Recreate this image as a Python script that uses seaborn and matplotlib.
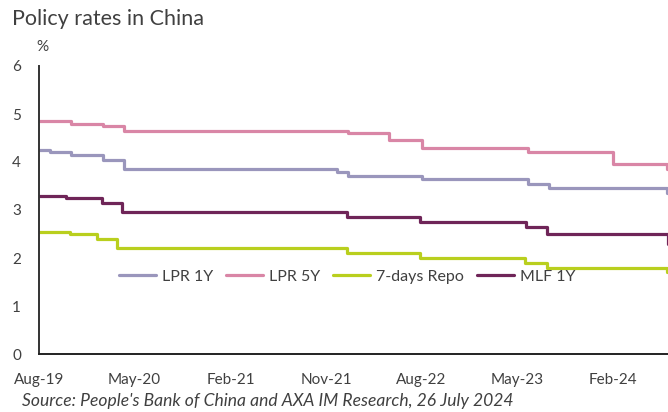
import matplotlib
matplotlib.use("Agg")
import matplotlib.pyplot as plt
import matplotlib.dates as mdates
import numpy as np
import pandas as pd
import seaborn as sns

# Effective dates of each rate change and the rate that applies from then on (%)
lpr1y_dates = ["2019-08-20", "2019-09-20", "2019-11-20", "2020-02-20", "2020-04-20",
               "2021-12-20", "2022-01-20", "2022-08-22", "2023-06-20", "2023-08-21",
               "2024-07-22", "2024-07-26"]
lpr1y_rates = [4.25, 4.20, 4.15, 4.05, 3.85, 3.80, 3.70, 3.65, 3.55, 3.45, 3.35, 3.35]

lpr5y_dates = ["2019-08-20", "2019-11-20", "2020-02-20", "2020-04-20", "2022-01-20",
               "2022-05-20", "2022-08-22", "2023-06-20", "2024-02-20", "2024-07-22",
               "2024-07-26"]
lpr5y_rates = [4.85, 4.80, 4.75, 4.65, 4.60, 4.45, 4.30, 4.20, 3.95, 3.85, 3.85]

repo7d_dates = ["2019-08-20", "2019-11-18", "2020-02-03", "2020-03-30", "2022-01-17",
                "2022-08-15", "2023-06-13", "2023-08-15", "2024-07-22", "2024-07-26"]
repo7d_rates = [2.55, 2.50, 2.40, 2.20, 2.10, 2.00, 1.90, 1.80, 1.70, 1.70]

mlf1y_dates = ["2019-08-20", "2019-11-05", "2020-02-17", "2020-04-15", "2022-01-17",
               "2022-08-15", "2023-06-15", "2023-08-15", "2024-07-25", "2024-07-26"]
mlf1y_rates = [3.30, 3.25, 3.15, 2.95, 2.85, 2.75, 2.65, 2.50, 2.30, 2.30]

series_names = ["LPR 1Y", "LPR 5Y", "7-days Repo", "MLF 1Y"]
series_colors = ["#9A96BC", "#D986A6", "#B9CF1E", "#6F2558"]

tick_dates = ["2019-08-20", "2020-05-20", "2021-02-20", "2021-11-20",
              "2022-08-20", "2023-05-20", "2024-02-20"]
y_ticks = [0, 1, 2, 3, 4, 5, 6]

frames = []
for name, d, r in zip(series_names,
                      [lpr1y_dates, lpr5y_dates, repo7d_dates, mlf1y_dates],
                      [lpr1y_rates, lpr5y_rates, repo7d_rates, mlf1y_rates]):
    frames.append(pd.DataFrame({"date": pd.to_datetime(d), "rate": r, "series": name}))
df = pd.concat(frames, ignore_index=True)

sns.set_theme(style="white")
plt.rcParams["font.family"] = ["Lato", "DejaVu Sans"]

fig = plt.figure(figsize=(6.68, 4.12), dpi=100)
ax = fig.add_axes([39 / 668, 58 / 412, 629 / 668, 288 / 412])

sns.lineplot(data=df, x="date", y="rate", hue="series", hue_order=series_names,
             palette=dict(zip(series_names, series_colors)), estimator=None,
             sort=True, drawstyle="steps-post", linewidth=2.3, ax=ax)

ax.set_xlim(pd.Timestamp("2019-08-20"), pd.Timestamp("2024-07-26"))
ax.set_ylim(0, 6)
ax.set_yticks(y_ticks)
ax.set_xticks(pd.to_datetime(tick_dates))
ax.xaxis.set_major_formatter(mdates.DateFormatter("%b-%y"))
ax.set_xlabel("")
ax.set_ylabel("")

for side in ["top", "right"]:
    ax.spines[side].set_visible(False)
ax.spines["left"].set_color("#333333")
ax.spines["left"].set_linewidth(1.4)
ax.spines["bottom"].set_color("#222222")
ax.spines["bottom"].set_linewidth(1.4)

ax.tick_params(axis="y", length=0, pad=13, labelsize=11, labelcolor="#404040")
ax.tick_params(axis="x", direction="in", length=4, width=1.2, color="#222222",
               pad=14, labelsize=11, labelcolor="#404040")

leg = ax.legend(loc="center", bbox_to_anchor=(0.49, 0.268), ncol=4, frameon=False,
                fontsize=11.5, handlelength=2.3, columnspacing=0.8, handletextpad=0.4)
for line in leg.get_lines():
    line.set_linewidth(2.3)
for t in leg.get_texts():
    t.set_color("#404040")

fig.text(12 / 668, 1 - 19 / 412, "Policy rates in China", fontsize=15.5,
         color="#404040", ha="left", va="center")
fig.text(42 / 668, 1 - 47 / 412, "%", fontsize=11, color="#404040",
         ha="center", va="center")
fig.text(22 / 668, 1 - 401 / 412,
         "Source: People's Bank of China and AXA IM Research, 26 July 2024",
         fontsize=12.6, style="italic", color="#404040", ha="left", va="center")

fig.savefig("out.png", dpi=100)
